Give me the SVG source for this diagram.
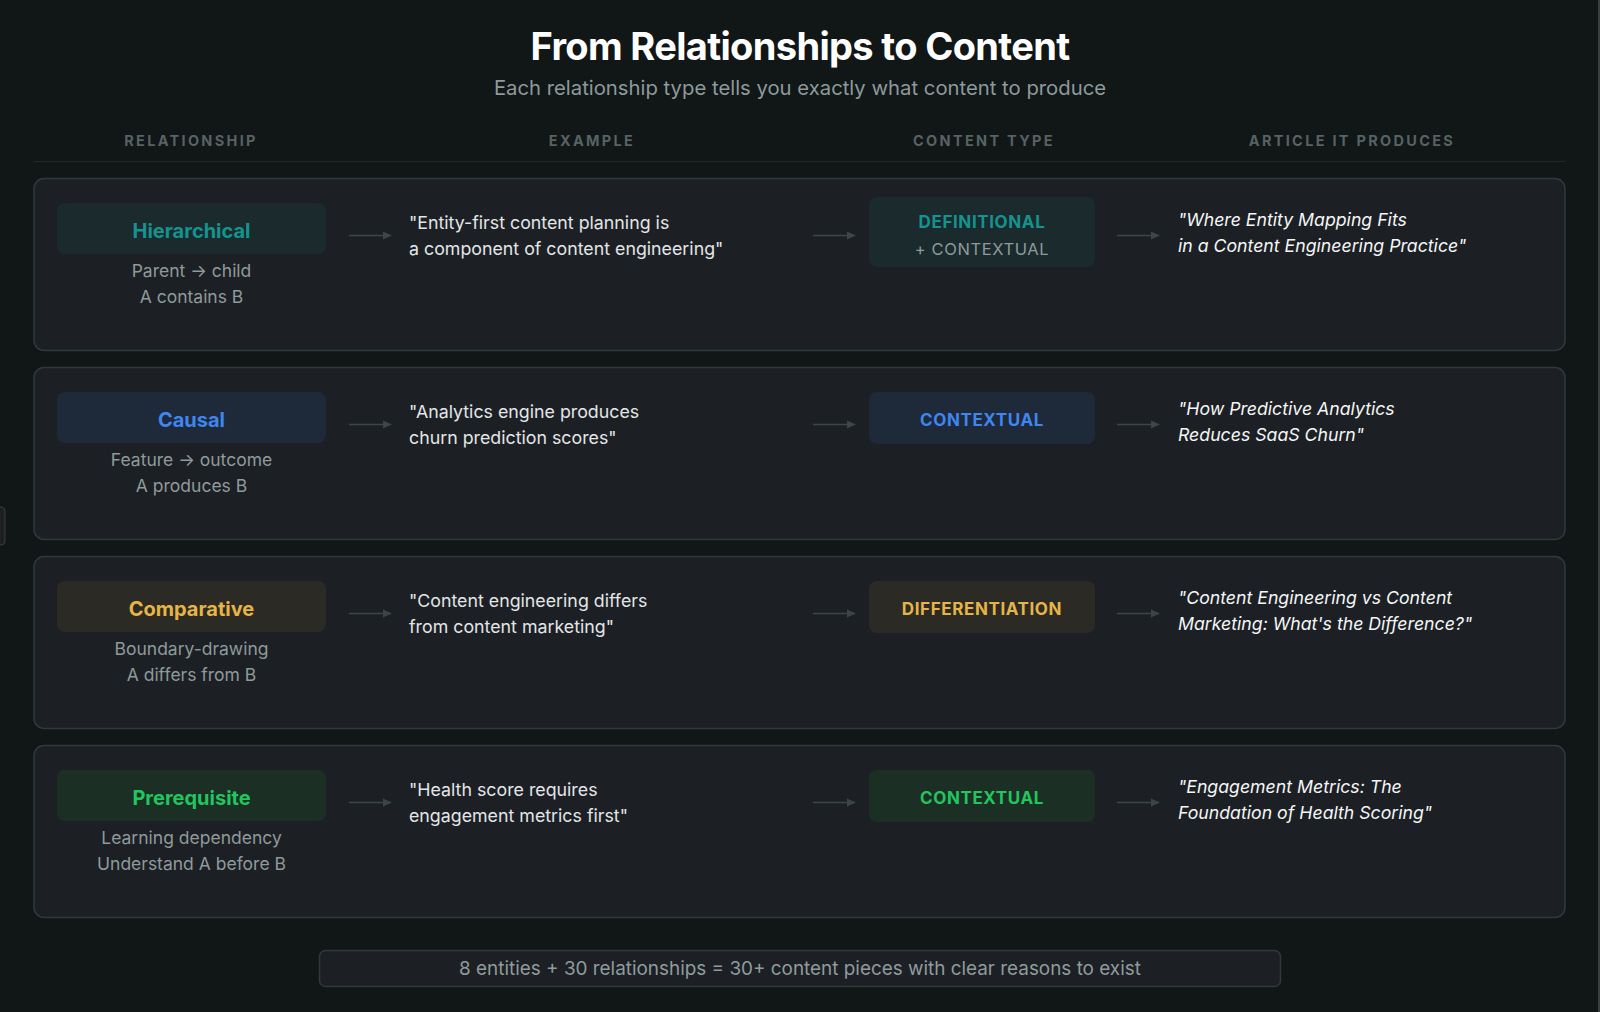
<svg xmlns="http://www.w3.org/2000/svg" width="1600" height="1012" viewBox="0 0 1600 1012">
<defs>
<marker id="ah" viewBox="0 0 10 10" refX="9" refY="5" markerWidth="9" markerHeight="9" markerUnits="userSpaceOnUse" orient="auto"><path d="M0,0.5 L10,5 L0,9.5 z" fill="#3a4648"/></marker>
<style>
text{font-family:Inter,"Noto Sans","Liberation Sans",sans-serif}
.title{font-size:38px;font-weight:700;fill:#ffffff;letter-spacing:-0.65px}
.sub{font-size:20.3px;fill:#8d9a9c}
.hdr{font-size:14.5px;font-weight:700;fill:#566264;letter-spacing:2.3px}
.card{fill:#1c2024;stroke:#2f3a3c;stroke-width:1.5}
.lbl{font-size:20px;font-weight:700;text-anchor:middle}
.desc{font-size:17.5px;fill:#8e9a9b;text-anchor:middle}
.ex{font-size:17.8px;fill:#e3e6e7}
.art{font-size:17.7px;fill:#f4f6f6;font-style:italic}
.ct{font-size:17px;font-weight:700;text-anchor:middle;letter-spacing:0.6px}
.ct2{font-size:16.5px;fill:#8e9a9b;text-anchor:middle;letter-spacing:0.6px}
.arr{stroke:#3a4648;stroke-width:1.6;fill:none;marker-end:url(#ah)}
.foot{font-size:18.9px;fill:#8f9b9c;text-anchor:middle}
</style>
</defs>
<rect x="0" y="0" width="1600" height="1012" fill="#111617"/>
<rect x="1598" y="0" width="2" height="1012" fill="#3a3f40"/>
<rect x="-6" y="507" width="11" height="38" rx="4" fill="#1e1f1f" stroke="#3a3c3c" stroke-width="1"/>

<g id="title">
<text class="title" x="800" y="60" text-anchor="middle">From Relationships to Content</text>
<text class="sub" x="800" y="95" text-anchor="middle">Each relationship type tells you exactly what content to produce</text>
</g>

<g id="headers">
<text class="hdr" x="191" y="146" text-anchor="middle">RELATIONSHIP</text>
<text class="hdr" x="592" y="146" text-anchor="middle">EXAMPLE</text>
<text class="hdr" x="984" y="146" text-anchor="middle">CONTENT TYPE</text>
<text class="hdr" x="1352" y="146" text-anchor="middle">ARTICLE IT PRODUCES</text>
<line x1="34" y1="161.5" x2="1565" y2="161.5" stroke="#20282a" stroke-width="1.2"/>
</g>

<g id="row-hierarchical">
<rect class="card" x="34" y="178.5" width="1531" height="172" rx="10"/>
<rect x="57" y="203" width="269" height="51" rx="8" fill="#1b2a2d"/>
<text class="lbl" x="191.5" y="237.5" fill="#15938f">Hierarchical</text>
<text class="desc" x="191.5" y="277">Parent → child</text>
<text class="desc" x="191.5" y="303">A contains B</text>
<text class="ex" x="409" y="229">"Entity-first content planning is</text>
<text class="ex" x="409" y="255">a component of content engineering"</text>
<rect x="869" y="197" width="226" height="70" rx="8" fill="#1b2a2d"/>
<text class="ct" x="982" y="228" fill="#15938f">DEFINITIONAL</text>
<text class="ct2" x="982" y="254.5">+ CONTEXTUAL</text>
<text class="art" x="1178" y="226">"Where Entity Mapping Fits</text>
<text class="art" x="1178" y="252">in a Content Engineering Practice"</text>
</g>

<g id="row-causal">
<rect class="card" x="34" y="367.5" width="1531" height="172" rx="10"/>
<rect x="57" y="392" width="269" height="51" rx="8" fill="#1e2939"/>
<text class="lbl" x="191.5" y="426.5" fill="#3f86f0">Causal</text>
<text class="desc" x="191.5" y="466">Feature → outcome</text>
<text class="desc" x="191.5" y="492">A produces B</text>
<text class="ex" x="409" y="418">"Analytics engine produces</text>
<text class="ex" x="409" y="444">churn prediction scores"</text>
<rect x="869" y="392" width="226" height="52" rx="8" fill="#1e2939"/>
<text class="ct" x="982" y="426" fill="#3f86f0">CONTEXTUAL</text>
<text class="art" x="1178" y="415">"How Predictive Analytics</text>
<text class="art" x="1178" y="441">Reduces SaaS Churn"</text>
</g>

<g id="row-comparative">
<rect class="card" x="34" y="556.5" width="1531" height="172" rx="10"/>
<rect x="57" y="581" width="269" height="51" rx="8" fill="#2b2a24"/>
<text class="lbl" x="191.5" y="615.5" fill="#e6b547">Comparative</text>
<text class="desc" x="191.5" y="655">Boundary-drawing</text>
<text class="desc" x="191.5" y="681">A differs from B</text>
<text class="ex" x="409" y="607">"Content engineering differs</text>
<text class="ex" x="409" y="633">from content marketing"</text>
<rect x="869" y="581" width="226" height="52" rx="8" fill="#2b2a24"/>
<text class="ct" x="982" y="615" fill="#e6b547">DIFFERENTIATION</text>
<text class="art" x="1178" y="604">"Content Engineering vs Content</text>
<text class="art" x="1178" y="630">Marketing: What's the Difference?"</text>
</g>

<g id="row-prerequisite">
<rect class="card" x="34" y="745.5" width="1531" height="172" rx="10"/>
<rect x="57" y="770" width="269" height="51" rx="8" fill="#1b2f25"/>
<text class="lbl" x="191.5" y="804.5" fill="#22c55e">Prerequisite</text>
<text class="desc" x="191.5" y="844">Learning dependency</text>
<text class="desc" x="191.5" y="870">Understand A before B</text>
<text class="ex" x="409" y="796">"Health score requires</text>
<text class="ex" x="409" y="822">engagement metrics first"</text>
<rect x="869" y="770" width="226" height="52" rx="8" fill="#1b2f25"/>
<text class="ct" x="982" y="804" fill="#22c55e">CONTEXTUAL</text>
<text class="art" x="1178" y="793">"Engagement Metrics: The</text>
<text class="art" x="1178" y="819">Foundation of Health Scoring"</text>
</g>

<g id="connectors">
<line class="arr" x1="349" y1="235.5" x2="391" y2="235.5"/>
<line class="arr" x1="813" y1="235.5" x2="855" y2="235.5"/>
<line class="arr" x1="1117" y1="235.5" x2="1159" y2="235.5"/>
<line class="arr" x1="349" y1="424.5" x2="391" y2="424.5"/>
<line class="arr" x1="813" y1="424.5" x2="855" y2="424.5"/>
<line class="arr" x1="1117" y1="424.5" x2="1159" y2="424.5"/>
<line class="arr" x1="349" y1="613.5" x2="391" y2="613.5"/>
<line class="arr" x1="813" y1="613.5" x2="855" y2="613.5"/>
<line class="arr" x1="1117" y1="613.5" x2="1159" y2="613.5"/>
<line class="arr" x1="349" y1="802.5" x2="391" y2="802.5"/>
<line class="arr" x1="813" y1="802.5" x2="855" y2="802.5"/>
<line class="arr" x1="1117" y1="802.5" x2="1159" y2="802.5"/>
</g>

<g id="footer">
<rect x="319.5" y="950.5" width="961" height="36" rx="6" fill="#1c2024" stroke="#2f3a3c" stroke-width="1.5"/>
<text class="foot" x="800" y="974.5">8 entities + 30 relationships = 30+ content pieces with clear reasons to exist</text>
</g>
</svg>
